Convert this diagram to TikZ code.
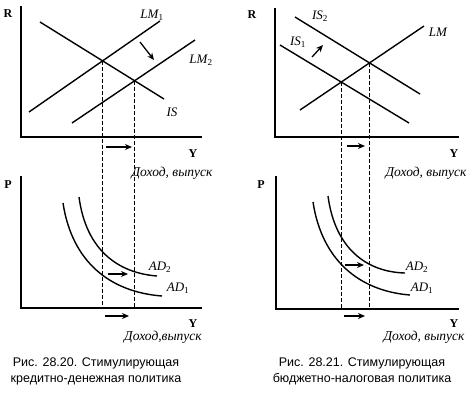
\documentclass[tikz,border=0pt]{standalone}
\usepackage{fontspec}
\setmainfont{Liberation Serif}
\setsansfont{Liberation Sans}
\usepackage{tikz}
\usetikzlibrary{
    arrows.meta,
    positioning,
    calc,
    intersections
}

\begin{document}
\begin{tikzpicture}[
    x=1pt, y=-1pt,
    axisLine/.style={
        line width=1.8pt, draw=black
    },
    curveLine/.style={
        line width=1.4pt, draw=black
    },
    dropLine/.style={
        line width=0.9pt, dash pattern=on 4pt off 2pt
    },
    shiftArrow/.style={
        -{Stealth[length=7pt,width=6pt]}, line width=1.3pt
    },
    axisLabel/.style={
        font=\fontsize{12}{13}\selectfont\bfseries, inner sep=0pt
    },
    curveLabel/.style={
        font=\fontsize{13}{15}\selectfont\itshape, inner sep=0pt
    },
    incomeLabel/.style={
        font=\fontsize{13.5}{15}\selectfont\itshape, inner sep=0pt
    },
    captionText/.style={
        font=\sffamily\fontsize{12.5}{16}\selectfont, align=center, inner sep=0pt
    }
]
    \useasboundingbox (0,0) rectangle (474,392);

    % Axes origins
    \coordinate (oTL) at (21,137);
    \coordinate (oBL) at (21,308);
    \coordinate (oTR) at (275,137);
    \coordinate (oBR) at (276,309);

    % Left pair: money policy
    \draw[axisLine] (21,6) -- (oTL) -- (202,137);
    \draw[axisLine] (21,176) -- (oBL) -- (202,308);
    \node[axisLabel] (rL) at (8,14) {R};
    \node[axisLabel] (yTL) at (193,154) {Y};
    \node[axisLabel] (pL) at (8,185) {P};
    \node[axisLabel] (yBL) at (193,324) {Y};

    \coordinate (isA) at (40,22);   \coordinate (isB) at (164,99);
    \coordinate (lmA) at (29,112);  \coordinate (lmB) at (160,21);
    \coordinate (lmC) at (72,123);  \coordinate (lmD) at (195,40);
    \draw[curveLine, name path=isL] (isA) -- (isB);
    \draw[curveLine, name path=lmOne] (lmA) -- (lmB);
    \draw[curveLine, name path=lmTwo] (lmC) -- (lmD);
    \path[name intersections={of=isL and lmOne, by=eL1}];
    \path[name intersections={of=isL and lmTwo, by=eL2}];

    \node[curveLabel] (lmOneLbl) at (152,15) {LM\textsubscript{\upshape 1}};
    \node[curveLabel] (lmTwoLbl) at (201,60) {LM\textsubscript{\upshape 2}};
    \node[curveLabel] (isLbl) at (172,112) {IS};
    \coordinate (lmShiftA) at (140,42);
    \coordinate (lmShiftB) at (154,60);
    \draw[shiftArrow] (lmShiftA) -- (lmShiftB);

    \draw[dropLine] (eL1) -- (eL1 |- oBL);
    \draw[dropLine] (eL2) -- (eL2 |- oBL);
    \draw[shiftArrow] (106,147) -- (132,147);
    \node[incomeLabel] (incTL) at (172,173) {Доход, выпуск};

    \coordinate (adOneA) at (63,203);  \coordinate (adOneB) at (162,296);
    \coordinate (adTwoA) at (79,197);  \coordinate (adTwoB) at (157,276);
    \draw[curveLine] (adOneA) .. controls (72,262) and (110,292) .. (adOneB);
    \draw[curveLine] (adTwoA) .. controls (86,250) and (118,273) .. (adTwoB);
    \node[curveLabel] (adTwoLbl) at (160,267) {AD\textsubscript{\upshape 2}};
    \node[curveLabel] (adOneLbl) at (178,288) {AD\textsubscript{\upshape 1}};
    \draw[shiftArrow] (108,274) -- (128,274);
    \draw[shiftArrow] (105,316) -- (129,316);
    \node[incomeLabel] (incBL) at (163,337) {Доход,выпуск};

    \node[captionText] (capL) at (96,371) {Рис. 28.20. Стимулирующая\\кредитно-денежная политика};

    % Right pair: fiscal policy
    \draw[axisLine] (275,8) -- (oTR) -- (459,137);
    \draw[axisLine] (276,176) -- (oBR) -- (459,309);
    \node[axisLabel] (rR) at (252,15) {R};
    \node[axisLabel] (yTR) at (454,154) {Y};
    \node[axisLabel] (pR) at (261,185) {P};
    \node[axisLabel] (yBR) at (454,324) {Y};

    \coordinate (isC) at (280,45);  \coordinate (isD) at (409,123);
    \coordinate (isE) at (295,17);  \coordinate (isF) at (420,94);
    \coordinate (lmE) at (300,110); \coordinate (lmF) at (424,26);
    \draw[curveLine, name path=isOne] (isC) -- (isD);
    \draw[curveLine, name path=isTwo] (isE) -- (isF);
    \draw[curveLine, name path=lmR] (lmE) -- (lmF);
    \path[name intersections={of=isOne and lmR, by=eR1}];
    \path[name intersections={of=isTwo and lmR, by=eR2}];

    \node[curveLabel] (isTwoLbl) at (320,16) {IS\textsubscript{\upshape 2}};
    \node[curveLabel] (isOneLbl) at (298,42) {IS\textsubscript{\upshape 1}};
    \node[curveLabel] (lmLbl) at (438,32) {LM};
    \coordinate (isShiftA) at (312,57);
    \coordinate (isShiftB) at (323,45);
    \draw[shiftArrow] (isShiftA) -- (isShiftB);

    \draw[dropLine] (eR1) -- (eR1 |- oBR);
    \draw[dropLine] (eR2) -- (eR2 |- oBR);
    \draw[shiftArrow] (347,146) -- (365,146);
    \node[incomeLabel] (incTR) at (426,173) {Доход, выпуск};

    \coordinate (adThreeA) at (313,202);  \coordinate (adThreeB) at (410,295);
    \coordinate (adFourA) at (328,196);   \coordinate (adFourB) at (405,273);
    \draw[curveLine] (adThreeA) .. controls (322,261) and (360,291) .. (adThreeB);
    \draw[curveLine] (adFourA) .. controls (335,249) and (367,272) .. (adFourB);
    \node[curveLabel] (adFourLbl) at (417,267) {AD\textsubscript{\upshape 2}};
    \node[curveLabel] (adThreeLbl) at (422,288) {AD\textsubscript{\upshape 1}};
    \draw[shiftArrow] (345,265) -- (364,265);
    \draw[shiftArrow] (344,316) -- (365,316);
    \node[incomeLabel] (incBR) at (424,337) {Доход, выпуск};

    \node[captionText] (capR) at (362,371) {Рис. 28.21. Стимулирующая\\бюджетно-налоговая политика};

\end{tikzpicture}
\end{document}
